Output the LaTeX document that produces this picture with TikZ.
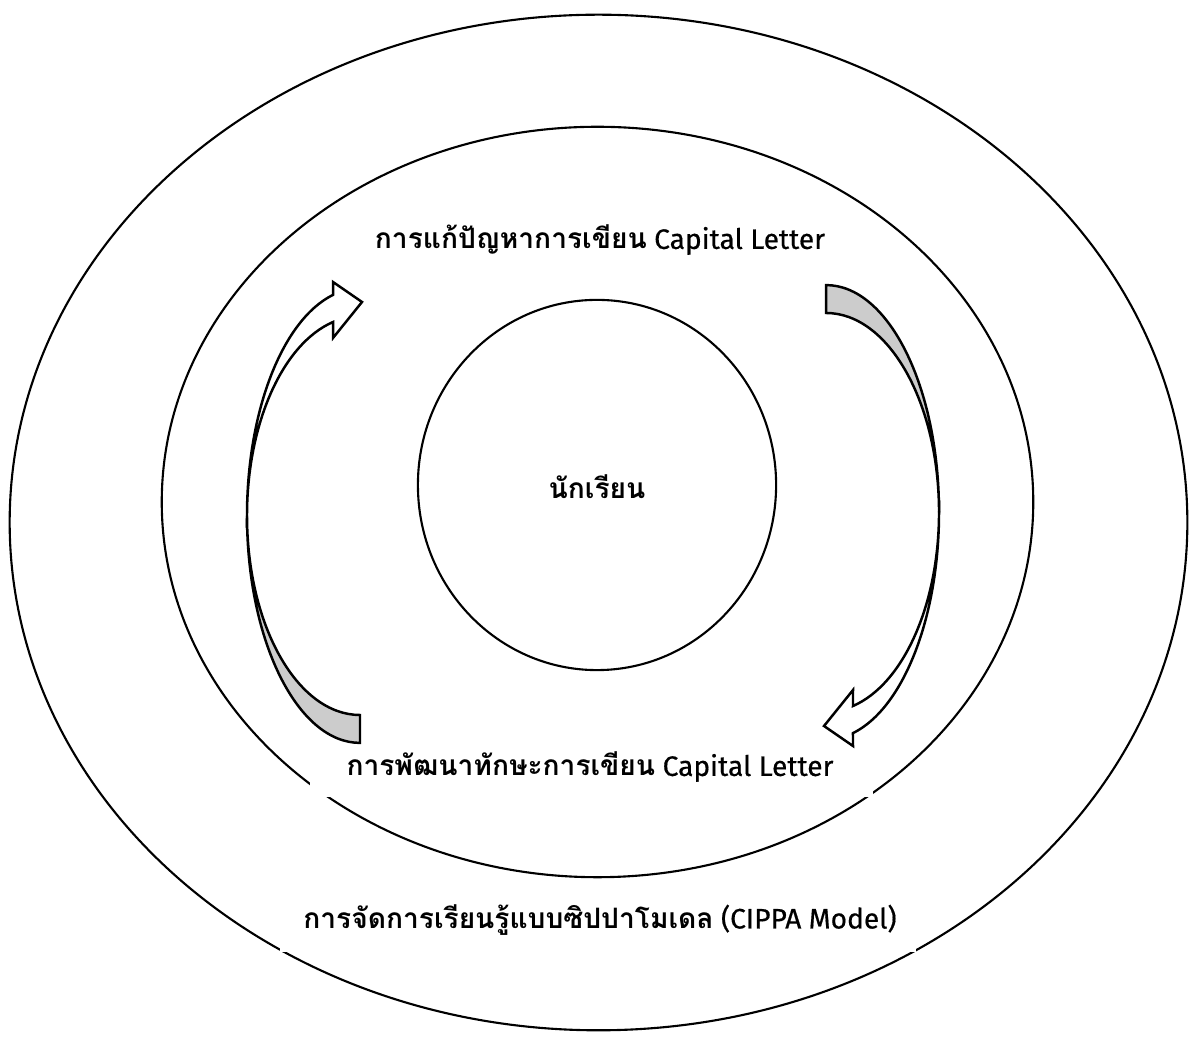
\documentclass[tikz,border=0pt]{standalone}
\usepackage{fontspec}
\setmainfont{Fira Sans}[FakeBold=0.5]
\newfontfamily\thaifont[Script=Thai]{Loma}
\usetikzlibrary{shapes.geometric}
\tikzset{
  ringsty/.style={draw=black, line width=0.6pt, ellipse, inner sep=0pt},
  grayband/.style={draw=black, fill=black!20, line width=0.7pt, line join=miter},
  whiteband/.style={draw=black, fill=white, line width=0.7pt, line join=miter},
  lbl/.style={font=\fontsize{8pt}{9.6pt}\selectfont, inner sep=0pt},
  maskbox/.style={fill=white, draw=none}
}
\newcommand{\thaitxt}[1]{{\thaifont\bfseries #1}}
\begin{document}
\begin{tikzpicture}[x=0.01cm,y=0.01cm]
\useasboundingbox (0,0) rectangle (1189,1037);
% rings
\node[ringsty, minimum width=11.77cm, minimum height=10.15cm] (outer) at (598.5,514.5) {};
\node[ringsty, minimum width=8.71cm, minimum height=7.5cm] (middle) at (597.5,535) {};
\node[ringsty, minimum width=3.58cm, minimum height=3.70cm] (inner) at (597,552) {};
% white masks behind the lower labels
\path[maskbox] (310,240) rectangle (873,292);
\path[maskbox] (280,85) rectangle (916,147);
% left curved arrow
\begin{scope}
  \path[grayband] (360,294.1) arc[start angle=270, end angle=180, x radius=113, y radius=227.3]
     arc[start angle=180, end angle=270, x radius=113, y radius=199.4] -- cycle;
  \path[whiteband] (247,521.4) arc[start angle=180, end angle=103.8, x radius=113, y radius=227.3]
     -- (333,755) -- (362,735) -- (333,699) -- (333.04,715.0)
     arc[start angle=103.8, end angle=180, x radius=113, y radius=199.4] -- cycle;
\end{scope}
% right curved arrow (same shape turned half round)
\begin{scope}[rotate around={180:(593,523)}]
  \path[grayband] (360,294.1) arc[start angle=270, end angle=180, x radius=113, y radius=227.3]
     arc[start angle=180, end angle=270, x radius=113, y radius=199.4] -- cycle;
  \path[whiteband] (247,521.4) arc[start angle=180, end angle=103.8, x radius=113, y radius=227.3]
     -- (333,755) -- (362,735) -- (333,699) -- (333.04,715.0)
     arc[start angle=103.8, end angle=180, x radius=113, y radius=199.4] -- cycle;
\end{scope}
% labels
\node[lbl] (student) at (597,550) {\thaitxt{นักเรียน}};
\node[lbl] (solve) at (600,797) {\thaitxt{การแก้ปัญหาการเขียน} Capital Letter};
\node[lbl] (develop) at (590,270) {\thaitxt{การพัฒนาทักษะการเขียน} Capital Letter};
\node[lbl] (cippa) at (600,117) {\thaitxt{การจัดการเรียนรู้แบบซิปปาโมเดล} (CIPPA Model)};
\end{tikzpicture}
\end{document}
